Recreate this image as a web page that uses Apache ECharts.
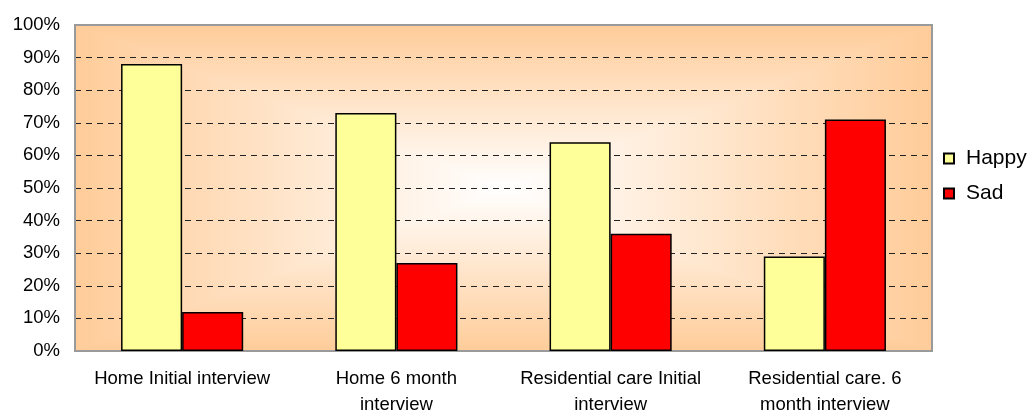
<!DOCTYPE html>
<html>
<head>
<meta charset="utf-8">
<script src="https://cdn.jsdelivr.net/npm/echarts@6/dist/echarts.min.js"></script>
<style>
  html, body { margin: 0; padding: 0; background: #ffffff; }
  #chart { width: 1030px; height: 414px; }
</style>
</head>
<body>
<div id="chart"></div>
<script>
// Survey answers, percent of respondents
const categories = [
  'Home Initial interview',
  'Home 6 month\ninterview',
  'Residential care Initial\ninterview',
  'Residential care. 6\nmonth interview'
];
const seriesNames = ['Happy', 'Sad'];
const happyValues = [88, 73, 64, 29];
const sadValues = [12, 27, 36, 71];

const FONT = "'Liberation Sans', Arial, sans-serif";
const PEACH = '#FFCC99';

// Plot rectangle in pixels
const grid = { left: 75, top: 25, right: 98, bottom: 63 };
const W = 1030, H = 414;
const L = grid.left, T = grid.top, R = W - grid.right, B = H - grid.bottom;
const cx = (L + R) / 2, cy = (T + B) / 2;

// Rectangular "from centre" fill: four triangles, each shading toward its own edge
function lin(x, y, x2, y2) {
  return {
    type: 'linear', x: x, y: y, x2: x2, y2: y2,
    colorStops: [
      { offset: 0, color: '#ffffff' },
      { offset: 1, color: PEACH }
    ]
  };
}
function tri(points, grad) {
  return {
    type: 'polygon', z: -100, silent: true,
    shape: { points: points },
    style: { fill: grad, stroke: grad, lineWidth: 1 }
  };
}
const backdrop = [
  tri([[L, T], [R, T], [cx, cy]], lin(0, 1, 0, 0)),
  tri([[L, B], [R, B], [cx, cy]], lin(0, 0, 0, 1)),
  tri([[L, T], [L, B], [cx, cy]], lin(1, 0, 0, 0)),
  tri([[R, T], [R, B], [cx, cy]], lin(0, 0, 1, 0))
];

const chart = echarts.init(document.getElementById('chart'), null, { renderer: 'canvas' });
chart.setOption({
  animation: false,
  backgroundColor: '#ffffff',
  textStyle: { fontFamily: FONT },
  graphic: { elements: backdrop },
  grid: {
    left: grid.left, top: grid.top, right: grid.right, bottom: grid.bottom,
    outerBoundsMode: 'none', containLabel: false,
    show: true, backgroundColor: 'transparent',
    borderColor: '#9a9a9a', borderWidth: 2
  },
  legend: {
    orient: 'vertical',
    left: 943, top: 148, padding: 0,
    itemWidth: 10, itemHeight: 10, itemGap: 14,
    icon: 'rect',
    data: seriesNames,
    textStyle: { fontFamily: FONT, fontSize: 21, color: '#000', lineHeight: 20, padding: [0, 0, 0, 7] }
  },
  xAxis: {
    type: 'category',
    data: categories,
    axisLine: { show: true, lineStyle: { color: '#9a9a9a', width: 2 } },
    axisTick: { show: false },
    axisLabel: {
      interval: 0, margin: 15, color: '#000',
      fontFamily: FONT, fontSize: 18.5, lineHeight: 26, align: 'center'
    }
  },
  yAxis: {
    type: 'value',
    min: 0, max: 100, interval: 10,
    axisLine: { show: true, lineStyle: { color: '#9a9a9a', width: 2 } },
    axisTick: { show: false },
    axisLabel: { formatter: '{value}%', margin: 15, color: '#000', fontFamily: FONT, fontSize: 18.5 },
    splitLine: {
      show: true, showMinLine: false, showMaxLine: false,
      lineStyle: { color: '#222', width: 1.2, type: [6, 5] }
    }
  },
  series: [
    {
      name: seriesNames[0], type: 'bar', data: happyValues,
      barGap: '0%', barCategoryGap: '43%',
      itemStyle: { color: '#FFFF99', borderColor: '#000', borderWidth: 1.5 }
    },
    {
      name: seriesNames[1], type: 'bar', data: sadValues,
      barGap: '0%', barCategoryGap: '43%',
      itemStyle: { color: '#FF0000', borderColor: '#000', borderWidth: 1.5 }
    }
  ]
});
</script>
</body>
</html>
